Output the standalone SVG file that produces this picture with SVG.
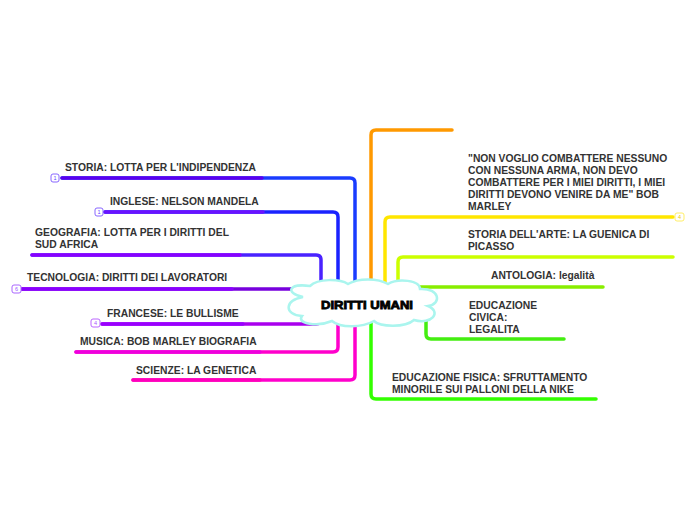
<svg xmlns="http://www.w3.org/2000/svg" width="696" height="520" viewBox="0 0 696 520">
<style>
.t{font-family:"Liberation Sans",Arial,sans-serif;font-size:10.3px;font-weight:bold;fill:#333333}
.c{fill:none;stroke-width:3.5;stroke-linecap:round;stroke-linejoin:round}
.b{fill:#ffffff;stroke-width:1}
.bt{font-family:"Liberation Sans",Arial,sans-serif;font-size:5.5px;text-anchor:middle}
</style>
<rect width="696" height="520" fill="#ffffff"/>
<g id="connectors">
  <path class="c" stroke="#1a3cff" d="M62,178 H350 Q355,178 355,183 V290"/>
  <path class="c" stroke="#5a00ee" d="M62,178 H262"/>
  <path class="c" stroke="#1a22ff" d="M105,212 H333 Q338,212 338,217 V290"/>
  <path class="c" stroke="#6a11ff" d="M105,212 H263"/>
  <path class="c" stroke="#4a22ff" d="M32,255 H316 Q321,255 321,260 V292"/>
  <path class="c" stroke="#8800ff" d="M32,255 H240"/>
  <path class="c" stroke="#7700dd" d="M22,289 H300"/>
  <path class="c" stroke="#8a00ff" d="M22,289 H232"/>
  <path class="c" stroke="#aa00ee" d="M102,324 H316 Q321,324 321,319 V316"/>
  <path class="c" stroke="#9900ff" d="M102,324 H243"/>
  <path class="c" stroke="#ff00cc" d="M76,352 H333 Q338,352 338,347 V320"/>
  <path class="c" stroke="#ee00dd" d="M76,352 H260"/>
  <path class="c" stroke="#ff00cc" d="M133,380 H350 Q355,380 355,375 V322"/>
  <path class="c" stroke="#ff00bb" d="M133,380 H260"/>
  <path class="c" stroke="#ff9900" d="M371,288 V135 Q371,130 376,130 H452"/>
  <path class="c" stroke="#ffe600" d="M385,288 V222 Q385,217 390,217 H673"/>
  <path class="c" stroke="#ccff00" d="M398,288 V262 Q398,257 403,257 H673"/>
  <path class="c" stroke="#88ee00" d="M413,287 H603"/>
  <path class="c" stroke="#44ee11" d="M426,318 V334 Q426,339 431,339 H564"/>
  <path class="c" stroke="#33ff00" d="M371,322 V394 Q371,399 376,399 H596"/>
</g>
<g id="center">
  <path d="M303,297 C285,293 288,283 310,286 C318,278 340,279 348,284 C358,278 378,278 388,284 C398,278 420,280 420,289 C440,288 442,304 428,306 C442,312 432,325 414,320 C405,328 380,327 374,321 C362,328 340,328 332,321 C318,327 296,324 302,316 C284,315 284,300 303,297 Z" fill="#ffffff" stroke="#aaf5ee" stroke-width="2.5"/>
  <text x="367" y="309" text-anchor="middle" font-family="'Liberation Sans',Arial,sans-serif" font-size="11" font-weight="bold" stroke="#000" stroke-width="0.8" fill="#000" textLength="92" lengthAdjust="spacingAndGlyphs">DIRITTI UMANI</text>
</g>
<g id="storia">
  <text class="t" x="65" y="171">STORIA: LOTTA PER L'INDIPENDENZA</text>
  <rect class="b" x="51" y="174" width="8" height="8" rx="2" stroke="#8866ff"/>
  <text class="bt" x="55" y="180" fill="#6644ff">1</text>
</g>
<g id="inglese">
  <text class="t" x="110" y="205">INGLESE: NELSON MANDELA</text>
  <rect class="b" x="95" y="208" width="8" height="8" rx="2" stroke="#8866ff"/>
  <text class="bt" x="99" y="214" fill="#6644ff">1</text>
</g>
<g id="geografia">
  <text class="t" x="35" y="236">GEOGRAFIA: LOTTA PER I DIRITTI DEL</text>
  <text class="t" x="35" y="248">SUD AFRICA</text>
</g>
<g id="tecnologia">
  <text class="t" x="27" y="281">TECNOLOGIA: DIRITTI DEI LAVORATORI</text>
  <rect class="b" x="12" y="285" width="9" height="8" rx="2" stroke="#aa66ff"/>
  <text class="bt" x="16.5" y="291" fill="#9955ff">6</text>
</g>
<g id="francese">
  <text class="t" x="107" y="317">FRANCESE: LE BULLISME</text>
  <rect class="b" x="91" y="319" width="9" height="8" rx="2" stroke="#bb66ff"/>
  <text class="bt" x="95.5" y="325" fill="#aa55ff">4</text>
</g>
<g id="musica">
  <text class="t" x="80" y="345">MUSICA: BOB MARLEY BIOGRAFIA</text>
</g>
<g id="scienze">
  <text class="t" x="136" y="374">SCIENZE: LA GENETICA</text>
</g>
<g id="citazione">
  <text class="t" x="468" y="162">"NON VOGLIO COMBATTERE NESSUNO</text>
  <text class="t" x="468" y="174">CON NESSUNA ARMA, NON DEVO</text>
  <text class="t" x="468" y="186">COMBATTERE PER I MIEI DIRITTI, I MIEI</text>
  <text class="t" x="468" y="198">DIRITTI DEVONO VENIRE DA ME" BOB</text>
  <text class="t" x="468" y="210">MARLEY</text>
  <rect class="b" x="675" y="213" width="9" height="8" rx="2" stroke="#ffee66"/>
  <text class="bt" x="679.5" y="219" fill="#eecc00">4</text>
</g>
<g id="arte">
  <text class="t" x="468" y="238">STORIA DELL'ARTE: LA GUENICA DI</text>
  <text class="t" x="468" y="250">PICASSO</text>
</g>
<g id="antologia">
  <text class="t" x="491" y="279">ANTOLOGIA: legalità</text>
</g>
<g id="civica">
  <text class="t" x="469" y="309">EDUCAZIONE</text>
  <text class="t" x="469" y="321">CIVICA:</text>
  <text class="t" x="469" y="333">LEGALITA</text>
</g>
<g id="fisica">
  <text class="t" x="392" y="381">EDUCAZIONE FISICA: SFRUTTAMENTO</text>
  <text class="t" x="392" y="393">MINORILE SUI PALLONI DELLA NIKE</text>
</g>
</svg>
